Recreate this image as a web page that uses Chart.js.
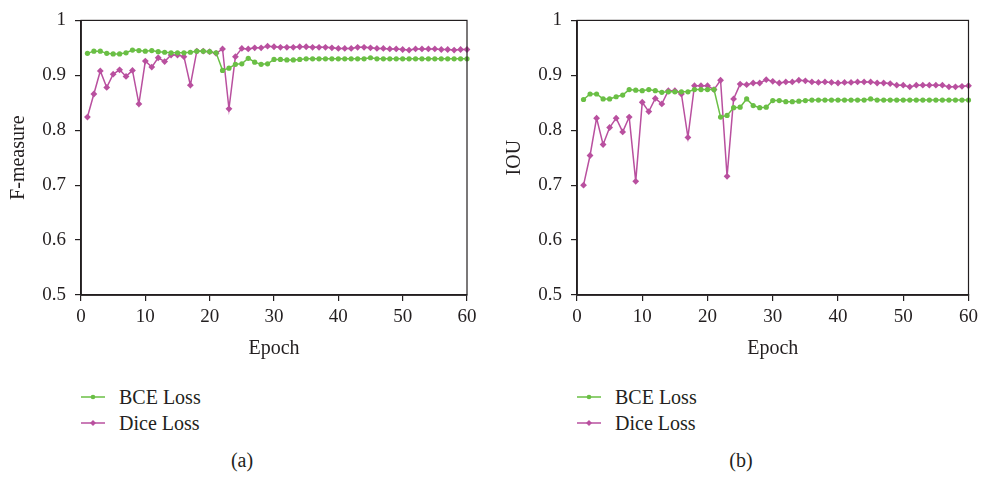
<!doctype html>
<html lang="en">
<head>
  <meta charset="utf-8" />
  <title>F-measure and IOU per epoch</title>
  <script src="https://cdn.jsdelivr.net/npm/chart.js"></script>
  <style>
    body { margin: 0; background: #fff; font-family: "Liberation Serif", "DejaVu Serif", serif; color: #231f20; }
    .wrap { position: relative; width: 983px; height: 477px; }
    canvas { position: absolute; top: 0; }
    .legend { position: absolute; font-size: 20px; line-height: 26px; }
    .legend div { display: flex; align-items: center; }
    .legend svg { margin-right: 14px; }
    .caption { position: absolute; top: 449px; font-size: 20px; width: 40px; text-align: center; }
  </style>
</head>
<body>
<div class="wrap">
  <canvas id="fChart" width="490" height="370" style="left:0"></canvas>
  <canvas id="iouChart" width="487" height="370" style="left:496px"></canvas>

  <div class="legend" style="left:81px; top:384px">
    <div><svg width="24" height="8"><line x1="0" y1="4" x2="24" y2="4" stroke="#6abf45" stroke-width="1.5"/><circle cx="12" cy="4" r="2.3" fill="#6abf45"/></svg>BCE Loss</div>
    <div><svg width="24" height="8"><line x1="0" y1="4" x2="24" y2="4" stroke="#b9509f" stroke-width="1.5"/><polygon points="12,1 15,4 12,7 9,4" fill="#b9509f"/></svg>Dice Loss</div>
  </div>
  <div class="legend" style="left:577px; top:384px">
    <div><svg width="24" height="8"><line x1="0" y1="4" x2="24" y2="4" stroke="#6abf45" stroke-width="1.5"/><circle cx="12" cy="4" r="2.3" fill="#6abf45"/></svg>BCE Loss</div>
    <div><svg width="24" height="8"><line x1="0" y1="4" x2="24" y2="4" stroke="#b9509f" stroke-width="1.5"/><polygon points="12,1 15,4 12,7 9,4" fill="#b9509f"/></svg>Dice Loss</div>
  </div>
  <div class="caption" style="left:222px">(a)</div>
  <div class="caption" style="left:721px">(b)</div>
</div>

<script>
  const epochs = [1, 2, 3, 4, 5, 6, 7, 8, 9, 10, 11, 12, 13, 14, 15, 16, 17, 18, 19, 20,
    21, 22, 23, 24, 25, 26, 27, 28, 29, 30, 31, 32, 33, 34, 35, 36, 37, 38, 39, 40,
    41, 42, 43, 44, 45, 46, 47, 48, 49, 50, 51, 52, 53, 54, 55, 56, 57, 58, 59, 60];

  // (a) F-measure
  const fBce = [0.940, 0.944, 0.944, 0.940, 0.939, 0.939, 0.941, 0.946, 0.945, 0.944,
    0.945, 0.943, 0.942, 0.941, 0.941, 0.941, 0.942, 0.944, 0.944, 0.943,
    0.941, 0.909, 0.913, 0.920, 0.921, 0.931, 0.924, 0.920, 0.921, 0.929,
    0.929, 0.928, 0.928, 0.929, 0.930, 0.930, 0.930, 0.930, 0.930, 0.930,
    0.930, 0.930, 0.930, 0.930, 0.932, 0.930, 0.930, 0.930, 0.930, 0.930,
    0.930, 0.930, 0.930, 0.930, 0.930, 0.930, 0.930, 0.930, 0.930, 0.930];
  const fDice = [0.824, 0.866, 0.908, 0.878, 0.902, 0.910, 0.898, 0.909, 0.848, 0.926,
    0.915, 0.932, 0.925, 0.937, 0.937, 0.934, 0.882, 0.944, 0.944, 0.943,
    0.940, 0.948, 0.839, 0.934, 0.949, 0.948, 0.950, 0.950, 0.953, 0.952,
    0.951, 0.951, 0.951, 0.952, 0.952, 0.951, 0.951, 0.951, 0.950, 0.949,
    0.949, 0.949, 0.951, 0.951, 0.950, 0.949, 0.949, 0.948, 0.948, 0.947,
    0.946, 0.948, 0.948, 0.948, 0.948, 0.947, 0.947, 0.946, 0.947, 0.947];

  // (b) IOU
  const iouBce = [0.856, 0.866, 0.866, 0.857, 0.857, 0.861, 0.864, 0.874, 0.873, 0.872,
    0.874, 0.872, 0.869, 0.870, 0.870, 0.870, 0.870, 0.874, 0.874, 0.874,
    0.874, 0.824, 0.827, 0.841, 0.842, 0.857, 0.845, 0.841, 0.842, 0.854,
    0.854, 0.852, 0.852, 0.853, 0.854, 0.855, 0.855, 0.855, 0.855, 0.855,
    0.855, 0.855, 0.855, 0.855, 0.857, 0.855, 0.855, 0.855, 0.855, 0.855,
    0.855, 0.855, 0.855, 0.855, 0.855, 0.855, 0.855, 0.855, 0.855, 0.855];
  const iouDice = [0.700, 0.754, 0.822, 0.774, 0.805, 0.822, 0.797, 0.824, 0.707, 0.851,
    0.834, 0.858, 0.848, 0.872, 0.872, 0.866, 0.787, 0.881, 0.881, 0.881,
    0.874, 0.891, 0.716, 0.857, 0.884, 0.883, 0.886, 0.886, 0.892, 0.889,
    0.886, 0.888, 0.888, 0.891, 0.890, 0.888, 0.887, 0.888, 0.887, 0.886,
    0.887, 0.887, 0.888, 0.888, 0.888, 0.886, 0.886, 0.885, 0.882, 0.882,
    0.879, 0.882, 0.882, 0.882, 0.882, 0.882, 0.879, 0.879, 0.880, 0.881];

  const xTicks = [0, 10, 20, 30, 40, 50, 60];
  const yTicks = [0.5, 0.6, 0.7, 0.8, 0.9, 1];

  const green = '#6abf45';
  const pink = '#b9509f';
  const ink = '#231f20';
  const serif = '"Liberation Serif", "DejaVu Serif", serif';

  // closes the plot box (top and right edges)
  const frame = {
    id: 'frame',
    afterDraw(chart) {
      const a = chart.chartArea;
      const ctx = chart.ctx;
      ctx.save();
      ctx.strokeStyle = ink;
      ctx.lineWidth = 1.2;
      ctx.strokeRect(a.left, a.top, a.right - a.left, a.bottom - a.top);
      ctx.restore();
    }
  };

  function pts(vals) {
    return vals.map((v, i) => ({ x: epochs[i], y: v }));
  }

  function makeChart(id, yTitle, bce, dice, padRight) {
    return new Chart(document.getElementById(id), {
      type: 'line',
      data: {
        datasets: [{
          label: 'BCE Loss',
          data: pts(bce),
          borderColor: green,
          backgroundColor: green,
          borderWidth: 1.5,
          pointRadius: 2.6,
          pointStyle: 'circle',
          pointBorderWidth: 0,
          clip: false
        }, {
          label: 'Dice Loss',
          data: pts(dice),
          borderColor: pink,
          backgroundColor: pink,
          borderWidth: 1.5,
          pointRadius: 3.4,
          pointStyle: 'rectRot',
          pointBorderWidth: 0,
          clip: false
        }]
      },
      options: {
        responsive: false,
        animation: false,
        layout: { padding: { left: 0, top: 12, right: padRight, bottom: 7 } },
        plugins: { legend: { display: false }, tooltip: { enabled: false } },
        scales: {
          x: {
            type: 'linear',
            min: 0,
            max: 60,
            afterBuildTicks: s => { s.ticks = xTicks.map(v => ({ value: v })); },
            afterFit: s => { s.height = 68; },
            grid: { drawOnChartArea: false, drawTicks: true, tickLength: 6, color: ink, lineWidth: 1.2 },
            border: { color: ink, width: 1.8 },
            ticks: { color: ink, padding: 5, maxRotation: 0, font: { family: serif, size: 19 } },
            title: { display: true, text: 'Epoch', color: ink, padding: { top: 2, bottom: 2 }, font: { family: serif, size: 20 } }
          },
          y: {
            min: 0.5,
            max: 1,
            afterBuildTicks: s => { s.ticks = yTicks.map(v => ({ value: v })); },
            afterFit: s => { s.width = 81; },
            grid: { drawOnChartArea: false, drawTicks: true, tickLength: 6, color: ink, lineWidth: 1.2 },
            border: { color: ink, width: 1.8 },
            ticks: { color: ink, padding: 9, font: { family: serif, size: 19 }, callback: v => String(Math.round(v * 10) / 10) },
            title: { display: true, text: yTitle, color: ink, padding: { top: 7, bottom: 2 }, font: { family: serif, size: 20 } }
          }
        }
      },
      plugins: [frame]
    });
  }

  makeChart('fChart', 'F-measure', fBce, fDice, 23);
  makeChart('iouChart', 'IOU', iouBce, iouDice, 13);
</script>
</body>
</html>
